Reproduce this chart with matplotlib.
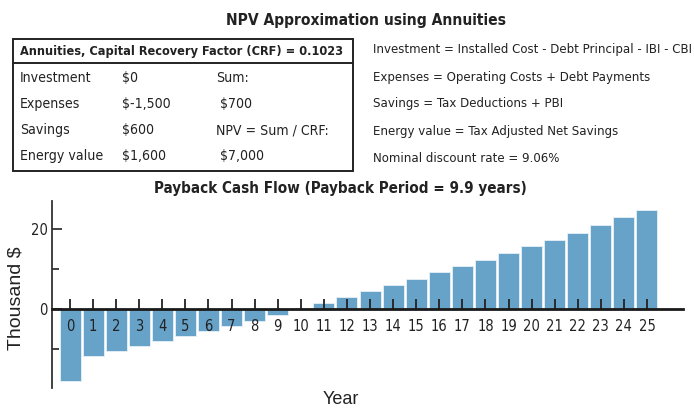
import matplotlib
matplotlib.use("Agg")
import os
import matplotlib.pyplot as plt
from matplotlib import font_manager as fm
from matplotlib.patches import Rectangle
from matplotlib.lines import Line2D
from matplotlib.ticker import FixedLocator

# ---- data ----
years = list(range(26))
cash_flow = [-18.0, -11.7, -10.6, -9.3, -8.1, -6.8, -5.6, -4.25, -2.9, -1.6,
             0.2, 1.6, 3.1, 4.6, 6.1, 7.6, 9.2, 10.75, 12.3, 14.0,
             15.7, 17.3, 19.1, 20.9, 23.0, 24.7]
year_labels = [str(y) for y in years]
y_major = [0, 20]
y_minor = [-10, 10]

main_title = "NPV Approximation using Annuities"
table_header = "Annuities, Capital Recovery Factor (CRF) = 0.1023"
row_names = ["Investment", "Expenses", "Savings", "Energy value"]
row_values = ["$0", "$-1,500", "$600", "$1,600"]
sum_col = ["Sum:", " $700", "NPV = Sum / CRF:", " $7,000"]
notes = ["Investment = Installed Cost - Debt Principal - IBI - CBI",
         "Expenses = Operating Costs + Debt Payments",
         "Savings = Tax Deductions + PBI",
         "Energy value = Tax Adjusted Net Savings",
         "Nominal discount rate = 9.06%"]
chart_title = "Payback Cash Flow (Payback Period = 9.9 years)"

# ---- find a narrow / condensed font ----
def find_font(bold):
    files = [f.fname for f in fm.fontManager.ttflist]
    prefs = ["liberationsansnarrow", "arialnarrow", "dejavusanscondensed",
             "robotocondensed", "opensanscondensed", "notosanscondensed",
             "condensed", "narrow"]
    for p in prefs:
        for f in files:
            b = os.path.basename(f).lower().replace("-", "").replace("_", "")
            if p not in b:
                continue
            if "italic" in b or "oblique" in b:
                continue
            is_bold = "bold" in b and "semibold" not in b and "extrabold" not in b
            if bold and is_bold:
                return f
            if not bold and not any(k in b for k in ["bold", "light", "thin",
                                                     "medium", "black"]):
                return f
    return None

reg_file = find_font(False)
bold_file = find_font(True)
if reg_file:
    NREG = fm.FontProperties(fname=reg_file)
    SCALE = 1.0
else:
    NREG = fm.FontProperties(family="Liberation Sans")
    SCALE = 0.85
if bold_file:
    NBOLD = fm.FontProperties(fname=bold_file)
else:
    NBOLD = NREG.copy()
    NBOLD.set_weight("bold")

def fp(base, size):
    p = base.copy()
    p.set_size(size * SCALE)
    return p

W, H = 694, 412
TXT = "#222222"

fig = plt.figure(figsize=(W / 100, H / 100), dpi=100)
fig.patch.set_facecolor("white")

def fx(x):
    return x / W

def fy(y):
    return 1 - y / H

# ---- header text ----
fig.text(fx(366), fy(20), main_title, fontproperties=fp(NBOLD, 11.2),
         color=TXT, ha="center", va="center")

fig.add_artist(Rectangle((fx(13), fy(171)), fx(353) - fx(13), fy(39) - fy(171),
                         transform=fig.transFigure, fill=False,
                         edgecolor="#222222", linewidth=1.4))
fig.add_artist(Line2D([fx(13), fx(353)], [fy(63), fy(63)],
                      transform=fig.transFigure, color="#222222", linewidth=1.4))
fig.text(fx(20), fy(51), table_header, fontproperties=fp(NBOLD, 9.1),
         color=TXT, ha="left", va="center")
row_y = [78, 104, 130, 156]
for yy, n, v, s in zip(row_y, row_names, row_values, sum_col):
    fig.text(fx(20), fy(yy), n, fontproperties=fp(NREG, 10.1), color=TXT,
             ha="left", va="center")
    fig.text(fx(122), fy(yy), v, fontproperties=fp(NREG, 10.1), color=TXT,
             ha="left", va="center")
    fig.text(fx(216), fy(yy), s, fontproperties=fp(NREG, 10.1), color=TXT,
             ha="left", va="center")

note_y = [50, 77, 104, 131, 158]
for yy, t in zip(note_y, notes):
    fig.text(fx(373), fy(yy), t, fontproperties=fp(NREG, 9.45), color=TXT,
             ha="left", va="center")

fig.text(fx(340), fy(188), chart_title, fontproperties=fp(NBOLD, 10.9),
         color=TXT, ha="center", va="center")

# ---- bar chart ----
ax = fig.add_axes([fx(52), fy(388), fx(683) - fx(52), fy(201) - fy(388)])
ax.set_facecolor("none")
ax.bar(years, cash_flow, width=0.91, color="#67a2c8", edgecolor="#e8f1f7",
       linewidth=0.6, zorder=2)
ax.set_xlim(-0.78, 26.56)
ax.set_ylim(-19.75, 27.0)

for s in ["top", "right"]:
    ax.spines[s].set_visible(False)
ax.spines["bottom"].set_position(("data", 0))
ax.spines["bottom"].set_linewidth(2.0)
ax.spines["bottom"].set_color("#1a1a1a")
ax.spines["bottom"].set_zorder(3)
ax.spines["left"].set_linewidth(1.3)
ax.spines["left"].set_color("#333333")

ax.set_xticks(years)
ax.set_xticklabels(year_labels, fontproperties=fp(NREG, 10.5), color=TXT)
ax.tick_params(axis="x", direction="in", length=7.5, width=1.3, pad=7,
               color="#222222")
ax.yaxis.set_major_locator(FixedLocator(y_major))
ax.yaxis.set_minor_locator(FixedLocator(y_minor))
ax.set_yticklabels([str(v) for v in y_major], fontproperties=fp(NREG, 10.5),
                   color=TXT)
ax.tick_params(axis="y", which="major", direction="in", length=7.5, width=1.3,
               pad=3, color="#333333")
ax.tick_params(axis="y", which="minor", direction="in", length=5, width=1.3,
               color="#333333")
for t in ax.xaxis.get_major_ticks():
    t.tick1line.set_zorder(4)
ax.set_axisbelow(False)

fig.text(fx(16), fy(298), "Thousand $", family=["Liberation Sans", "DejaVu Sans"],
         fontsize=14, color=TXT, rotation=90, ha="center", va="center")
fig.text(fx(341), fy(400), "Year", family=["Liberation Sans", "DejaVu Sans"],
         fontsize=13, color=TXT, ha="center", va="center")

fig.savefig("out.png", dpi=100, facecolor="white")
